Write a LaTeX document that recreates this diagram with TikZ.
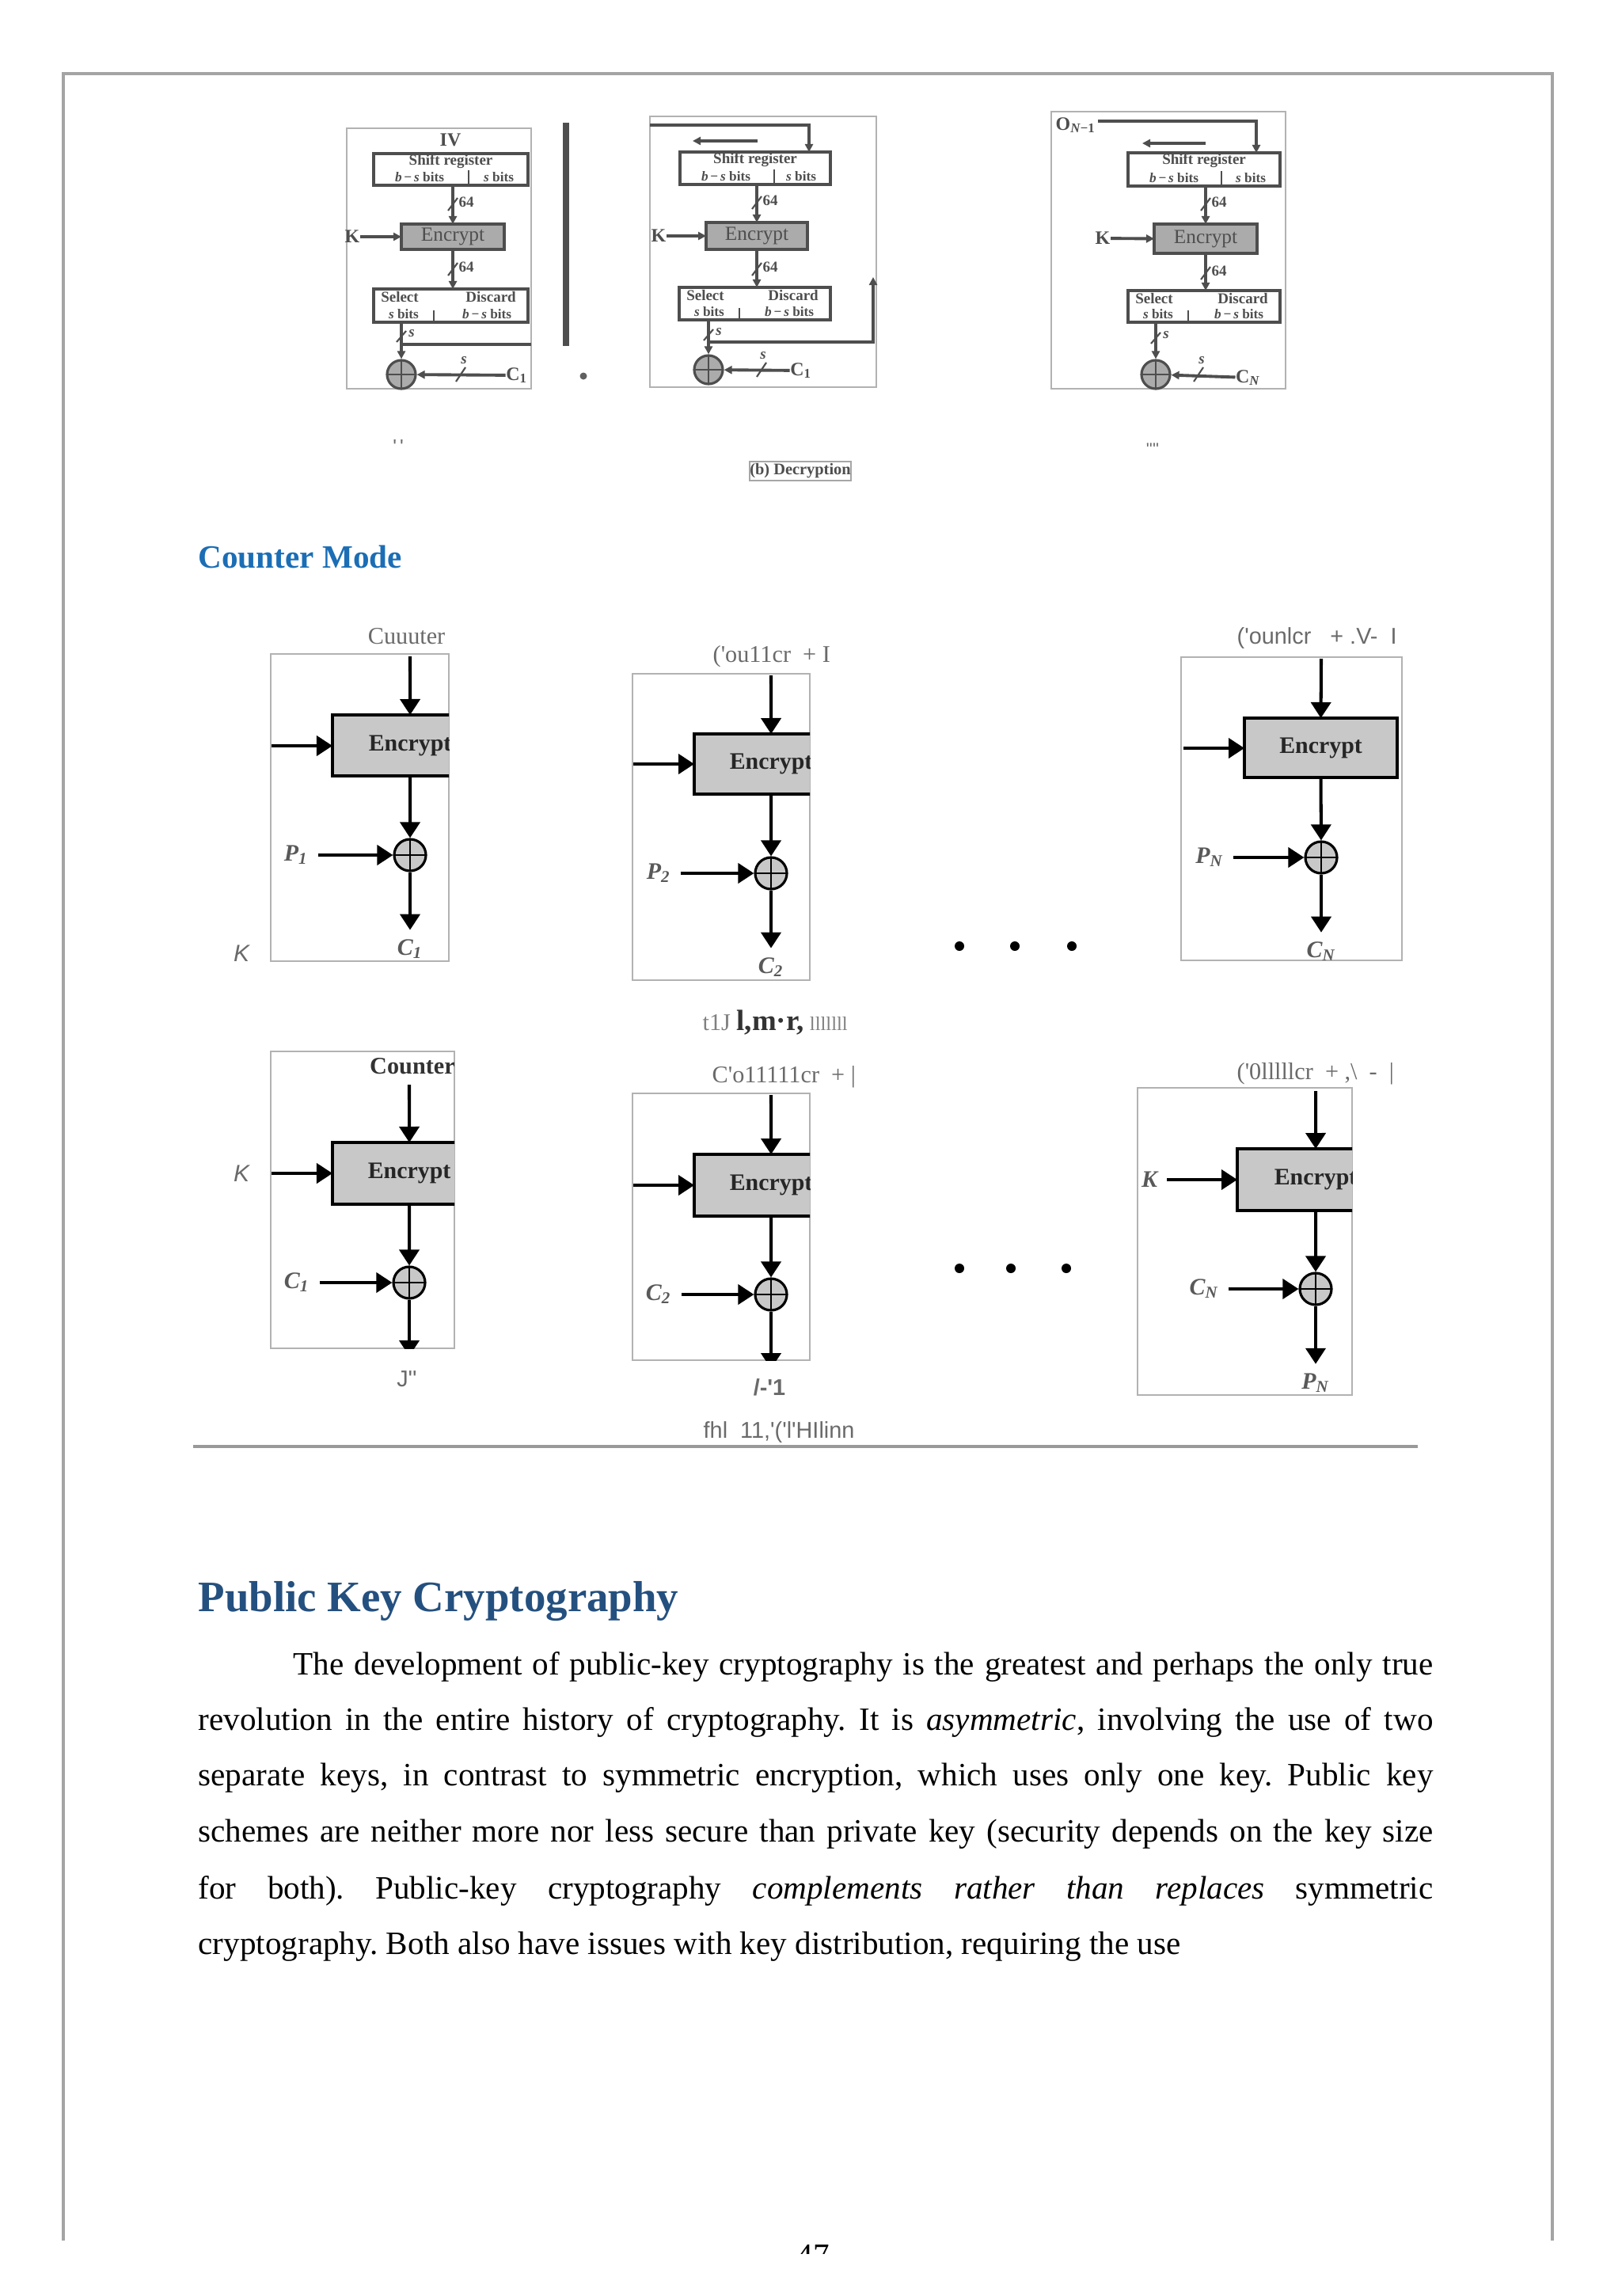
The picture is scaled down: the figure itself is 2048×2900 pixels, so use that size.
\documentclass[tikz,border=0pt]{standalone}
\usepackage{fontspec}
\setmainfont{Liberation Serif}
\setsansfont{Liberation Sans}
\usetikzlibrary{arrows.meta,calc}
\definecolor{cmblue}{HTML}{1B6EB5}
\definecolor{pkblue}{HTML}{24507F}
\definecolor{framegray}{HTML}{A4A4A4}
\definecolor{ocrgray}{HTML}{6A6A6A}
\definecolor{encfill}{HTML}{C8C8C8}
\definecolor{tdark}{HTML}{4E4E4E}
\definecolor{tfill}{HTML}{ABABAB}
\frenchspacing
\begin{document}
\begin{tikzpicture}[x=0.01cm,y=-0.01cm,
  frame/.style={draw=framegray, line width=0.9pt},
  panel/.style={draw=gray!60, line width=0.5pt, inner sep=0, outer sep=0, anchor=north west},
  arr/.style={draw=black, line width=1.15pt, -{Triangle[length=0.2cm,width=0.25cm]}},
  enc/.style={draw=black, line width=1.3pt, fill=encfill, anchor=north west, inner sep=0, outer sep=0, font=\bfseries\fontsize{8.5}{10}\selectfont, text=black!85},
  xor/.style={circle, draw=black, line width=0.9pt, fill=encfill, minimum size=0.4cm, inner sep=0,
     path picture={\draw[line width=0.6pt] (path picture bounding box.north) -- (path picture bounding box.south) (path picture bounding box.west) -- (path picture bounding box.east);}},
  var/.style={font=\bfseries\itshape\fontsize{8.5}{10}\selectfont, text=black!65},
  ocr/.style={text=ocrgray, inner sep=0, font=\fontsize{8.6}{10}\selectfont},
  ocrsf/.style={text=ocrgray, inner sep=0, font=\sffamily\fontsize{8.2}{10}\selectfont},
  kit/.style={text=ocrgray, font=\sffamily\itshape\fontsize{8.5}{10}\selectfont},
  bigdot/.style={circle, fill=black, inner sep=0, minimum size=0.12cm},
  tline/.style={draw=tdark, line width=1.1pt},
  tarr/.style={tline, -{Triangle[length=0.1cm,width=0.1cm]}},
  tslash/.style={draw=tdark, line width=0.6pt},
  tbox/.style={draw=tdark, line width=1.2pt, inner sep=0, outer sep=0, anchor=north west},
  tenc/.style={tbox, fill=tfill, font=\fontsize{7.2}{7}\selectfont, text=tdark},
  ttxt/.style={text=tdark, inner sep=0, font=\bfseries\fontsize{5.4}{5}\selectfont},
  tsub/.style={text=tdark, inner sep=0, font=\bfseries\fontsize{4.9}{5}\selectfont},
  tnum/.style={text=tdark, inner sep=0, font=\bfseries\fontsize{5.4}{5}\selectfont},
  txor/.style={circle, draw=tdark, line width=0.9pt, fill=tfill, minimum size=0.36cm, inner sep=0,
     path picture={\draw[draw=tdark, line width=0.5pt] (path picture bounding box.north) -- (path picture bounding box.south) (path picture bounding box.west) -- (path picture bounding box.east);}},
  tlab/.style={text=tdark, inner sep=0, font=\bfseries\fontsize{6.8}{7}\selectfont},
  body/.style={anchor=base west, inner sep=0, font=\fontsize{11.7}{14}\selectfont},
]
\path[use as bounding box] (0,0) rectangle (2048,2900);
\fill[white] (0,0) rectangle (2048,2900);

% page frame
\draw[frame] (80,2830) -- (80,93) -- (1961,93) -- (1961,2830);

% ================= top row (CFB decryption) =================
% panel A
\node[panel, minimum width=2.33cm, minimum height=3.29cm] (qa) at (438,162) {};
\node[tlab] (iva) at (569,177) {IV};
\node[tbox, minimum width=1.95cm, minimum height=0.40cm] (sra) at (472,194) {};
\node[ttxt] (sra1) at ($(sra.north)+(0,10)$) {Shift register};
\node[tsub] (sra2) at ($(sra.south west)+(58,-10)$) {\textit{b}\,−\,\textit{s} bits};
\node[tsub] (sra3) at ($(sra.south east)+(-37,-10)$) {\textit{s} bits};
\draw[tslash] ($(sra.south west)+(120,-19)$) -- ($(sra.south west)+(120,0)$);
\node[tenc, minimum width=1.30cm, minimum height=0.32cm] (eca) at (507,283) {Encrypt};
\node[tbox, minimum width=1.95cm, minimum height=0.42cm] (sla) at (472,365) {};
\node[ttxt] (sla1) at ($(sla.north west)+(33,10)$) {Select};
\node[tsub] (sla2) at ($(sla.south west)+(38,-10)$) {\textit{s} bits};
\node[ttxt] (sla3) at ($(sla.north east)+(-47,10)$) {Discard};
\node[tsub] (sla4) at ($(sla.south east)+(-52,-10)$) {\textit{b}\,−\,\textit{s} bits};
\draw[tslash] ($(sla.south west)+(76,-15)$) -- ($(sla.south west)+(76,0)$);
\node[txor] (xqa) at (507,473) {};
\draw[tarr] (eca.north |- sra.south) -- (eca.north);
\draw[tslash] ($(eca.north)+(-6,-17)$) -- ($(eca.north)+(6,-33)$);
\node[tnum] (na1) at ($(eca.north)+(17,-28)$) {64};
\node[tlab] (kqa) at (445,299) {K};
\draw[tarr] (kqa) -- (eca.west);
\draw[tarr] (eca.south) -- (eca.south |- sla.north);
\draw[tslash] ($(eca.south)+(-6,33)$) -- ($(eca.south)+(6,17)$);
\node[tnum] (na2) at ($(eca.south)+(17,22)$) {64};
\draw[tarr] (xqa |- sla.south) -- (xqa.north);
\draw[tslash] (501,432) -- (513,418);
\node[tnum] (na3) at (520,421) {\textit{s}};
\draw[tline] (xqa |- 0,435) -- (qa.east |- 0,435);
\node[tlab] (cqa) at (653,474) {C\textsubscript{1}};
\draw[tarr] (cqa) -- (xqa);
\draw[tslash] (576,482) -- (588,464);
\node[tnum] (na4) at (586,455) {\textit{s}};
\draw[draw=tdark, line width=2pt] (715,155) -- (715,437);
\node[circle, fill=tdark!90, inner sep=0, minimum size=0.09cm] (dota) at (737,475) {};

% panel B
\node[panel, minimum width=2.86cm, minimum height=3.42cm] (qb) at (821,147) {};
\node[tbox, minimum width=1.90cm, minimum height=0.41cm] (srb) at (859,192) {};
\node[ttxt] (srb1) at ($(srb.north)+(0,10)$) {Shift register};
\node[tsub] (srb2) at ($(srb.south west)+(58,-10)$) {\textit{b}\,−\,\textit{s} bits};
\node[tsub] (srb3) at ($(srb.south east)+(-37,-10)$) {\textit{s} bits};
\draw[tslash] ($(srb.south west)+(119,-19)$) -- ($(srb.south west)+(119,0)$);
\node[tenc, minimum width=1.28cm, minimum height=0.34cm] (ecb) at (892,281) {Encrypt};
\node[tbox, minimum width=1.91cm, minimum height=0.41cm] (slb) at (858,363) {};
\node[ttxt] (slb1) at ($(slb.north west)+(33,10)$) {Select};
\node[tsub] (slb2) at ($(slb.south west)+(38,-10)$) {\textit{s} bits};
\node[ttxt] (slb3) at ($(slb.north east)+(-47,10)$) {Discard};
\node[tsub] (slb4) at ($(slb.south east)+(-52,-10)$) {\textit{b}\,−\,\textit{s} bits};
\draw[tslash] ($(slb.south west)+(76,-15)$) -- ($(slb.south west)+(76,0)$);
\node[txor] (xqb) at (895,467) {};
\coordinate (fbb) at (1022,158);
\draw[tarr] (qb.west |- fbb) -- (fbb) -- (fbb |- srb.north);
\coordinate (shb) at (957,178);
\coordinate (shb2) at (875,178);
\draw[tarr] (shb) -- (shb2);
\draw[tarr] (ecb.north |- srb.south) -- (ecb.north);
\draw[tslash] ($(ecb.north)+(-6,-17)$) -- ($(ecb.north)+(6,-33)$);
\node[tnum] (nb1) at ($(ecb.north)+(17,-28)$) {64};
\node[tlab] (kqb) at (832,298) {K};
\draw[tarr] (kqb) -- (ecb.west);
\draw[tarr] (ecb.south) -- (ecb.south |- slb.north);
\draw[tslash] ($(ecb.south)+(-6,33)$) -- ($(ecb.south)+(6,17)$);
\node[tnum] (nb2) at ($(ecb.south)+(17,22)$) {64};
\draw[tarr] (xqb |- slb.south) -- (xqb.north);
\draw[tslash] (889,430) -- (901,416);
\node[tnum] (nb3) at (908,419) {\textit{s}};
\coordinate (upb) at (1103,350);
\draw[tarr] (xqb |- 0,432) -- (upb |- 0,432) -- (upb);
\node[tlab] (cqb) at (1012,468) {C\textsubscript{1}};
\draw[tarr] (cqb) -- (xqb);
\draw[tslash] (956,476) -- (968,458);
\node[tnum] (nb4) at (964,449) {\textit{s}};

% panel C
\node[panel, minimum width=2.96cm, minimum height=3.50cm] (qc) at (1328,141) {};
\node[tlab, anchor=west] (onc) at (1333,158) {O\textsubscript{\textit{N}−1}};
\node[tbox, minimum width=1.92cm, minimum height=0.42cm] (src) at (1425,193) {};
\node[ttxt] (src1) at ($(src.north)+(0,10)$) {Shift register};
\node[tsub] (src2) at ($(src.south west)+(58,-10)$) {\textit{b}\,−\,\textit{s} bits};
\node[tsub] (src3) at ($(src.south east)+(-37,-10)$) {\textit{s} bits};
\draw[tslash] ($(src.south west)+(118,-19)$) -- ($(src.south west)+(118,0)$);
\coordinate (fbc0) at (1387,153);
\coordinate (fbc) at (1587,153);
\draw[tarr] (fbc0) -- (fbc) -- (fbc |- src.north);
\coordinate (shc) at (1523,181);
\coordinate (shc2) at (1443,181);
\draw[tarr] (shc) -- (shc2);
\node[tenc, minimum width=1.30cm, minimum height=0.37cm] (ecc) at (1458,283) {Encrypt};
\node[tbox, minimum width=1.92cm, minimum height=0.40cm] (slc) at (1425,367) {};
\node[ttxt] (slc1) at ($(slc.north west)+(33,10)$) {Select};
\node[tsub] (slc2) at ($(slc.south west)+(38,-10)$) {\textit{s} bits};
\node[ttxt] (slc3) at ($(slc.north east)+(-47,10)$) {Discard};
\node[tsub] (slc4) at ($(slc.south east)+(-52,-10)$) {\textit{b}\,−\,\textit{s} bits};
\draw[tslash] ($(slc.south west)+(76,-15)$) -- ($(slc.south west)+(76,0)$);
\node[txor] (xqc) at (1460,473) {};
\draw[tarr] (ecc.north |- src.south) -- (ecc.north);
\draw[tslash] ($(ecc.north)+(-6,-17)$) -- ($(ecc.north)+(6,-33)$);
\node[tnum] (nc1) at ($(ecc.north)+(17,-28)$) {64};
\node[tlab] (kqc) at (1393,301) {K};
\draw[tarr] (kqc) -- (ecc.west);
\draw[tarr] (ecc.south) -- (ecc.south |- slc.north);
\draw[tslash] ($(ecc.south)+(-6,33)$) -- ($(ecc.south)+(6,17)$);
\node[tnum] (nc2) at ($(ecc.south)+(17,22)$) {64};
\draw[tarr] (xqc |- slc.south) -- (xqc.north);
\draw[tslash] (1454,434) -- (1466,420);
\node[tnum] (nc3) at (1473,423) {\textit{s}};
\node[tlab] (cqc) at (1577,477) {C\textsubscript{\textit{N}}};
\draw[tarr] (cqc) -- (xqc);
\draw[tslash] (1508,482) -- (1520,464);
\node[tnum] (nc4) at (1518,455) {\textit{s}};

% captions of top row
\node[text=ocrgray, inner sep=0, font=\sffamily\fontsize{7}{7}\selectfont] (capa) at (503,564) {\textquotesingle\,\textquotesingle};
\node[draw=gray!70, line width=0.5pt, minimum width=1.24cm, minimum height=0.24cm, inner sep=0, text=tdark, font=\bfseries\fontsize{5.8}{6}\selectfont] (capb) at (1011,595) {(b) Decryption};
\node[text=ocrgray, inner sep=0, font=\sffamily\fontsize{6}{6}\selectfont] (capc) at (1456,567) {\textquotesingle\textquotesingle\textquotesingle\textquotesingle};

% ================= Counter Mode =================
\node[anchor=base west, inner sep=0, text=cmblue, font=\bfseries\fontsize{11.7}{14}\selectfont] (hcm) at (250,717) {Counter Mode};

% --- encryption panel 1
\node[panel, minimum width=2.25cm, minimum height=3.88cm] (pa) at (342,826) {};
\node[ocr, anchor=base east] (ta) at (563,813) {Cuuuter};
\begin{scope}
\clip (pa.north west) rectangle (pa.south east);
\node[enc, minimum width=1.96cm, minimum height=0.77cm] (ea) at (420,903) {Encrypt};
\end{scope}
\node[xor] (xa) at (518,1080) {};
\coordinate (ina) at (518,829);
\draw[arr] (ina) -- (ea.north);
\coordinate (ka) at (343,942);
\draw[arr] (ka) -- (ka -| ea.west);
\draw[arr] (ea.south) -- (xa);
\node[var] (pla) at (374,1080) {P\textsubscript{1}};
\draw[arr] (pla) -- (xa);
\node[var] (cla) at (518,1199) {C\textsubscript{1}};
\draw[arr] (xa) -- (cla);
\node[kit] (kla) at (305,1204) {K};

% --- encryption panel 2
\node[panel, minimum width=2.24cm, minimum height=3.87cm] (pb) at (799,851) {};
\node[ocr, anchor=base west] (tb) at (900,836) {(\textquotesingle ou11cr \ + I};
\begin{scope}
\clip (pb.north west) rectangle (pb.south east);
\node[enc, minimum width=1.94cm, minimum height=0.76cm] (eb) at (877,927) {Encrypt};
\end{scope}
\node[xor] (xb) at (974,1103) {};
\coordinate (inb) at (974,853);
\draw[arr] (inb) -- (eb.north);
\coordinate (kb) at (800,965);
\draw[arr] (kb) -- (kb -| eb.west);
\draw[arr] (eb.south) -- (xb);
\node[var] (plb) at (832,1103) {P\textsubscript{2}};
\draw[arr] (plb) -- (xb);
\node[var] (clb) at (974,1222) {C\textsubscript{2}};
\draw[arr] (xb) -- (clb);
\node[ocr, anchor=base west] (capd) at (887,1301) {\textcolor{gray}{t1J} \textcolor{black!80}{\bfseries\fontsize{10.5}{12}\selectfont l,m·r,} \textcolor{gray}{\fontsize{7}{8}\selectfont lllllll}};

% --- encryption panel 3
\node[panel, minimum width=2.79cm, minimum height=3.83cm] (pc) at (1492,830) {};
\node[ocrsf, anchor=base west] (tc) at (1562,813) {(\textquotesingle ounlcr \ \ + .V- \ I};
\node[enc, minimum width=1.93cm, minimum height=0.75cm] (ec) at (1572,907) {Encrypt};
\node[xor] (xc) at (1669,1083) {};
\coordinate (inc) at (1669,832);
\draw[arr] (inc) -- (ec.north);
\coordinate (kc) at (1495,945);
\draw[arr] (kc) -- (kc -| ec.west);
\draw[arr] (ec.south) -- (xc);
\node[var] (plc) at (1528,1083) {P\textsubscript{\textit{N}}};
\draw[arr] (plc) -- (xc);
\node[var] (clc) at (1669,1202) {C\textsubscript{\textit{N}}};
\draw[arr] (xc) -- (clc);

\node[bigdot] (da1) at (1212,1195) {};
\node[bigdot] (da2) at (1282,1195) {};
\node[bigdot] (da3) at (1354,1195) {};

% --- decryption panel 4
\node[panel, minimum width=2.32cm, minimum height=3.75cm] (pd) at (342,1328) {};
\coordinate (od) at (517,1713);
\begin{scope}
\clip (pd.north west) rectangle (pd.south east);
\node[inner sep=0, font=\bfseries\fontsize{8.6}{10}\selectfont, text=black!80] (td) at (521,1347) {Counter};
\node[enc, minimum width=1.94cm, minimum height=0.78cm] (ed) at (420,1443) {Encrypt};
\node[xor] (xd) at (517,1620) {};
\draw[arr] (xd) -- (od);
\end{scope}
\coordinate (ind) at (517,1370);
\draw[arr] (ind) -- (ed.north);
\coordinate (kd) at (343,1482);
\draw[arr] (kd) -- (kd -| ed.west);
\draw[arr] (ed.south) -- (xd);
\node[var] (pld) at (375,1620) {C\textsubscript{1}};
\draw[arr] (pld) -- (xd);
\node[kit] (kld) at (305,1482) {K};
\node[ocrsf] (ud) at (514,1742) {J\textquotesingle\textquotesingle};

% --- decryption panel 5
\node[panel, minimum width=2.24cm, minimum height=3.37cm] (pe) at (799,1381) {};
\node[ocr, anchor=base west] (te) at (899,1367) {C\textquotesingle o11111cr \ + |};
\coordinate (oe) at (974,1729);
\begin{scope}
\clip (pe.north west) rectangle (pe.south east);
\node[enc, minimum width=1.94cm, minimum height=0.78cm] (ee) at (877,1458) {Encrypt};
\node[xor] (xe) at (974,1635) {};
\draw[arr] (xe) -- (oe);
\end{scope}
\coordinate (ine) at (974,1383);
\draw[arr] (ine) -- (ee.north);
\coordinate (ke) at (800,1497);
\draw[arr] (ke) -- (ke -| ee.west);
\draw[arr] (ee.south) -- (xe);
\node[var] (ple) at (832,1635) {C\textsubscript{2}};
\draw[arr] (ple) -- (xe);
\node[ocrsf, font=\sffamily\bfseries\fontsize{8.2}{10}\selectfont] (ue) at (972,1752) {/-\textquotesingle 1};
\node[ocrsf, anchor=base west] (cape) at (888,1816) {fhl \ 11,\textquotesingle(\textquotesingle l\textquotesingle HIlinn};
\draw[draw=gray!80, line width=1pt] (244,1827) -- (1791,1827);

% --- decryption panel 6
\node[panel, minimum width=2.71cm, minimum height=3.88cm] (pf) at (1437,1374) {};
\node[ocr, anchor=base west] (tf) at (1562,1363) {(\textquotesingle 0lllllcr \ + ,\textbackslash{} \ - \ |};
\begin{scope}
\clip (pf.north west) rectangle (pf.south east);
\node[enc, minimum width=1.98cm, minimum height=0.78cm] (ef) at (1563,1451) {Encrypt};
\end{scope}
\node[xor] (xf) at (1662,1628) {};
\coordinate (inf) at (1662,1378);
\draw[arr] (inf) -- (ef.north);
\node[var] (kf) at (1452,1490) {K};
\draw[arr] (kf) -- (kf -| ef.west);
\draw[arr] (ef.south) -- (xf);
\node[var] (plf) at (1521,1628) {C\textsubscript{\textit{N}}};
\draw[arr] (plf) -- (xf);
\node[var] (clf) at (1662,1747) {P\textsubscript{\textit{N}}};
\draw[arr] (xf) -- (clf);

\node[bigdot] (db1) at (1212,1602) {};
\node[bigdot] (db2) at (1277,1602) {};
\node[bigdot] (db3) at (1347,1602) {};

% ================= Public Key Cryptography =================
\node[anchor=base west, inner sep=0, text=pkblue, font=\bfseries\fontsize{15.6}{18}\selectfont] (hpk) at (250,2035) {Public Key Cryptography};
\node[body] (l1) at (370,2115) {\makebox[14.39cm][s]{The development of public-key cryptography is the greatest and perhaps the only true}};
\node[body] (l2) at (250,2185) {\makebox[15.59cm][s]{revolution in the entire history of cryptography. It is \textit{asymmetric}, involving the use of two}};
\node[body] (l3) at (250,2255) {\makebox[15.59cm][s]{separate keys, in contrast to symmetric encryption, which uses only one key. Public key}};
\node[body] (l4) at (250,2326) {\makebox[15.59cm][s]{schemes are neither more nor less secure than private key (security depends on the key size}};
\node[body] (l5) at (250,2398) {\makebox[15.59cm][s]{for both). Public-key cryptography \textit{complements rather than replaces} symmetric}};
\node[body] (l6) at (250,2468) {cryptography. Both also have issues with key distribution, requiring the use};

\begin{scope}
\clip (0,0) rectangle (2048,2846);
\node[anchor=base, inner sep=0, font=\fontsize{11.7}{14}\selectfont] (pnum) at (1027,2862) {47};
\end{scope}
\end{tikzpicture}
\end{document}
